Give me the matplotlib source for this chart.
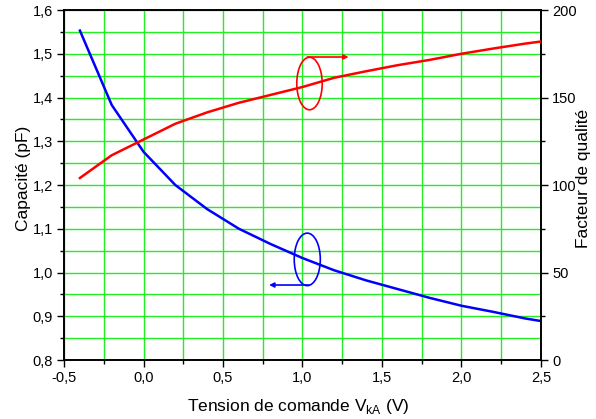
import matplotlib
matplotlib.use("Agg")
import matplotlib.pyplot as plt
from matplotlib.patches import Ellipse
from matplotlib.ticker import MultipleLocator, FuncFormatter

plt.rcParams["font.family"] = ["Liberation Sans", "DejaVu Sans"]

# ── Data ───────────────────────────────────────────────────────────────────
tension = [-0.4, -0.2, 0.0, 0.2, 0.4, 0.6, 0.8, 1.0, 1.2, 1.4,
           1.6, 1.8, 2.0, 2.2, 2.4, 2.5]
capacite = [1.553, 1.383, 1.276, 1.200, 1.145, 1.100, 1.065, 1.033, 1.005, 0.982,
            0.962, 0.942, 0.924, 0.910, 0.895, 0.889]
qualite = [104.0, 117.0, 126.0, 135.0, 141.5, 147.0, 151.5, 156.0, 161.3, 165.0,
           168.5, 171.5, 175.0, 178.0, 180.8, 182.0]

GREEN = "#22ee22"


def comma(v, pos, nd=1):
    return f"{v:.{nd}f}".replace(".", ",")


# ── Figure ─────────────────────────────────────────────────────────────────
fig = plt.figure(figsize=(5.96, 4.19), dpi=100)
ax = fig.add_axes([0.1074, 0.1408, 0.8003, 0.8353])
ax2 = ax.twinx()

ax.set_xlim(-0.5, 2.5)
ax.set_ylim(0.8, 1.6)
ax2.set_ylim(0, 200)

ax.xaxis.set_major_locator(MultipleLocator(0.5))
ax.xaxis.set_minor_locator(MultipleLocator(0.25))
ax.yaxis.set_major_locator(MultipleLocator(0.1))
ax.yaxis.set_minor_locator(MultipleLocator(0.05))
ax2.yaxis.set_major_locator(MultipleLocator(50))
ax2.yaxis.set_minor_locator(MultipleLocator(25))
ax.xaxis.set_major_formatter(FuncFormatter(comma))
ax.yaxis.set_major_formatter(FuncFormatter(comma))

# grid on major and minor steps
ax.grid(which="both", color=GREEN, linewidth=1.0)
ax.set_axisbelow(True)

for a in (ax, ax2):
    a.tick_params(which="major", length=5, width=1, labelsize=10.5,
                  direction="out", pad=3)
    a.tick_params(which="minor", length=3, width=1, direction="out")
    for s in a.spines.values():
        s.set_linewidth(1.2)
ax.tick_params(top=False, right=False, which="both")
ax2.tick_params(left=False, which="both")

ax.plot(tension, capacite, color="#0000ff", linewidth=1.8, zorder=3)
ax2.plot(tension, qualite, color="#ff0000", linewidth=1.8, zorder=3)

# ellipse + arrow markers linking each curve to its axis
ax.add_patch(Ellipse((1.044, 1.432), 0.160, 0.120, fill=False,
                     edgecolor="#ff0000", linewidth=1.2, zorder=4))
ax.annotate("", xy=(1.29, 1.4926), xytext=(1.03, 1.4926),
            arrowprops=dict(arrowstyle="-|>", color="#ff0000", lw=1.2,
                            mutation_scale=7, shrinkA=0, shrinkB=0), zorder=4)
ax.add_patch(Ellipse((1.03, 1.030), 0.164, 0.120, fill=False,
                     edgecolor="#0000ff", linewidth=1.2, zorder=4))
ax.annotate("", xy=(0.79, 0.9714), xytext=(1.04, 0.9714),
            arrowprops=dict(arrowstyle="-|>", color="#0000ff", lw=1.2,
                            mutation_scale=7, shrinkA=0, shrinkB=0), zorder=4)

ax.set_xlabel(r"Tension de comande V$_{\mathregular{kA}}$ (V)", fontsize=12.5)
ax.set_ylabel("Capacité (pF)", fontsize=12.5)
ax2.set_ylabel("Facteur de qualité", fontsize=12.5)
ax.xaxis.set_label_coords(0.491, -0.105)
ax.yaxis.set_label_coords(-0.069, 0.52)
ax2.yaxis.set_label_coords(1.073, 0.52)

fig.savefig("out.png", dpi=100)
